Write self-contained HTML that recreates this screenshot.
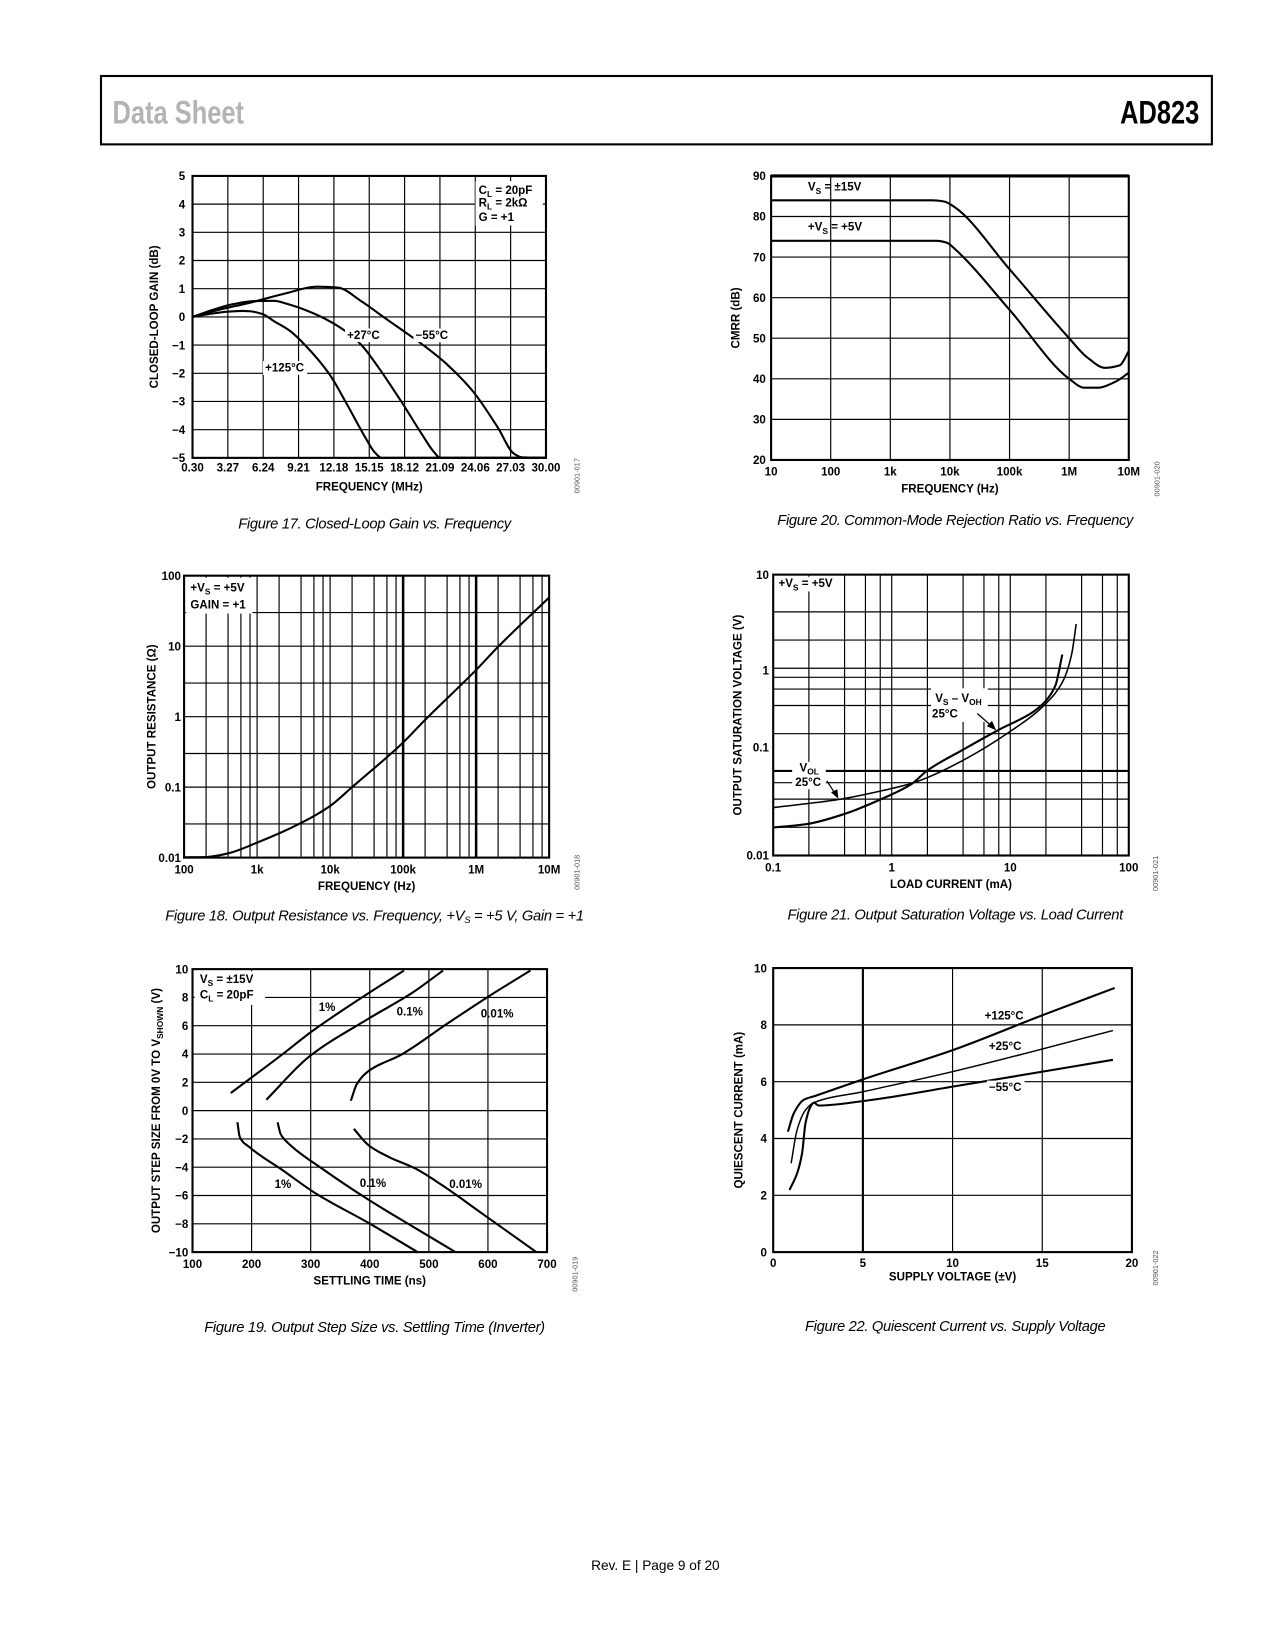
<!DOCTYPE html>
<html><head><meta charset="utf-8"><title>AD823 Data Sheet page 9</title>
<style>
html,body{margin:0;padding:0;background:#fff;}
svg{display:block;}
text{font-family:"Liberation Sans",sans-serif;}
.b{font-weight:bold;font-size:11px;}
.cap{font-style:italic;font-size:14px;letter-spacing:-0.3px;}
.id{font-size:7px;fill:#555;}
</style></head>
<body>
<svg id="page" width="1275" height="1650" viewBox="0 0 1212 1568" xmlns="http://www.w3.org/2000/svg">
<rect x="96" y="72" width="1056" height="65" fill="none" stroke="#000" stroke-width="2"/>
<text transform="translate(107,117) scale(0.78,1)" font-size="31" font-weight="bold" fill="#b3b3b3">Data Sheet</text>
<text transform="translate(1140,117) scale(0.78,1)" text-anchor="end" font-size="31" font-weight="bold" fill="#000">AD823</text>

<g id="c17"></g>
<g id="c20"></g>
<g id="c18"></g>
<g id="c21"></g>
<g id="c19"></g>
<g id="c22"></g>

<g id="labels">
<rect x="452" y="172" width="64" height="42" fill="#fff"/>
<text class="b" x="455" y="184">C<tspan font-size="8" dy="3">L</tspan><tspan dy="-3"> = 20pF</tspan></text>
<text class="b" x="455" y="196">R<tspan font-size="8" dy="3">L</tspan><tspan dy="-3"> = 2kΩ</tspan></text>
<text class="b" x="455" y="210">G = +1</text>
<rect x="328" y="312" width="35" height="13" fill="#fff"/>
<text class="b" x="330" y="322">+27°C</text>
<rect x="393" y="312" width="36" height="13" fill="#fff"/>
<text class="b" x="395" y="322">−55°C</text>
<rect x="250" y="343" width="42" height="13" fill="#fff"/>
<text class="b" x="252" y="353">+125°C</text>
<text class="b" x="768" y="181">V<tspan font-size="8" dy="3">S</tspan><tspan dy="-3"> = ±15V</tspan></text>
<text class="b" x="768" y="219">+V<tspan font-size="8" dy="3">S</tspan><tspan dy="-3"> = +5V</tspan></text>
<rect x="177" y="549" width="63" height="34" fill="#fff"/>
<text class="b" x="181" y="562">+V<tspan font-size="8" dy="3">S</tspan><tspan dy="-3"> = +5V</tspan></text>
<text class="b" x="181" y="578">GAIN = +1</text>
<rect x="737" y="548" width="62" height="14" fill="#fff"/>
<text class="b" x="740" y="558">+V<tspan font-size="8" dy="3">S</tspan><tspan dy="-3"> = +5V</tspan></text>
<rect x="885" y="654" width="54" height="32" fill="#fff"/>
<text class="b" x="889" y="667">V<tspan font-size="8" dy="3">S</tspan><tspan dy="-3"> – V</tspan><tspan font-size="8" dy="3">OH</tspan></text>
<text class="b" x="886" y="682">25°C</text>
<rect x="753" y="724" width="32" height="26" fill="#fff"/>
<text class="b" x="760" y="733">V<tspan font-size="8" dy="3">OL</tspan></text>
<text class="b" x="756" y="747">25°C</text>
<line x1="929" y1="678" x2="945" y2="692" stroke="#000" stroke-width="1.2"/>
<polygon points="947,694 938,690 943,685" fill="#000"/>
<line x1="786" y1="742" x2="795" y2="756" stroke="#000" stroke-width="1.2"/>
<polygon points="797,759 790,753 796,750" fill="#000"/>
<rect x="185" y="923" width="67" height="32" fill="#fff"/>
<text class="b" x="190" y="934">V<tspan font-size="8" dy="3">S</tspan><tspan dy="-3"> = ±15V</tspan></text>
<text class="b" x="190" y="949">C<tspan font-size="8" dy="3">L</tspan><tspan dy="-3"> = 20pF</tspan></text>
<text class="b" x="303" y="961">1%</text>
<text class="b" x="377" y="965">0.1%</text>
<text class="b" x="457" y="967">0.01%</text>
<text class="b" x="261" y="1129">1%</text>
<text class="b" x="342" y="1128">0.1%</text>
<text class="b" x="427" y="1129">0.01%</text>
<text class="b" x="936" y="969">+125°C</text>
<text class="b" x="940" y="998">+25°C</text>
<rect x="938" y="1027" width="36" height="12" fill="#fff"/>
<text class="b" x="940" y="1037">−55°C</text>
</g>

<g>
<text class="cap" x="356" y="502" text-anchor="middle">Figure 17. Closed-Loop Gain vs. Frequency</text>
<text class="cap" x="908" y="499" text-anchor="middle">Figure 20. Common-Mode Rejection Ratio vs. Frequency</text>
<text class="cap" x="356" y="875" text-anchor="middle">Figure 18. Output Resistance vs. Frequency, +V<tspan font-size="9" dy="2">S</tspan><tspan dy="-2"> = +5 V, Gain = +1</tspan></text>
<text class="cap" x="908" y="874" text-anchor="middle">Figure 21. Output Saturation Voltage vs. Load Current</text>
<text class="cap" x="356" y="1266" text-anchor="middle">Figure 19. Output Step Size vs. Settling Time (Inverter)</text>
<text class="cap" x="908" y="1265" text-anchor="middle">Figure 22. Quiescent Current vs. Supply Voltage</text>
</g>
<g>
<text class="id" transform="translate(551,452) rotate(-90)" text-anchor="middle">00901-017</text>
<text class="id" transform="translate(1102,455) rotate(-90)" text-anchor="middle">00901-020</text>
<text class="id" transform="translate(551,829) rotate(-90)" text-anchor="middle">00901-018</text>
<text class="id" transform="translate(1101,830) rotate(-90)" text-anchor="middle">00901-021</text>
<text class="id" transform="translate(549,1211) rotate(-90)" text-anchor="middle">00901-019</text>
<text class="id" transform="translate(1101,1205) rotate(-90)" text-anchor="middle">00901-022</text>
</g>
<text x="623" y="1492" text-anchor="middle" font-size="13">Rev. E | Page 9 of 20</text>
</svg>

<script>
// ---- Figure 17 data ----
const f17Ticks = ['0.30','3.27','6.24','9.21','12.18','15.15','18.12','21.09','24.06','27.03','30.00'];
const f17YTicks = [5,4,3,2,1,0,-1,-2,-3,-4,-5];
const f17m55x = [0.3,2.5,5.1,8,10.8,12.5,14.5,16.5,18.5,20,21.6,23.9,25.96,27.3,28,30];
const f17m55y = [0,0.25,0.5,0.82,1.07,1.04,0.55,-0.05,-0.64,-1.1,-1.65,-2.66,-3.93,-4.85,-4.98,-5];
const f17p27x = [0.3,2,3.7,5.5,7.1,8.5,9.8,11.5,13.2,14.5,15.9,17.9,19.6,20.6,21.1,30];
const f17p27y = [0,0.25,0.45,0.56,0.57,0.43,0.24,-0.08,-0.52,-1.0,-1.78,-3.04,-4.18,-4.8,-5,-5];
const f17p125x = [0.3,2,3.1,4.5,5.1,6.2,7.1,8.5,9.8,11.8,13.2,14.85,15.6,16.2,30];
const f17p125y = [0,0.12,0.18,0.21,0.2,0.1,-0.14,-0.5,-1.02,-2.03,-3.04,-4.3,-4.8,-5,-5];
// ---- Figure 20 data ----
const f20XTicks = ['10','100','1k','10k','100k','1M','10M'];
const f20YTicks = [20,30,40,50,60,70,80,90];
const f20v15x = [10,5000,8000,12000,100000,1e6,2e6,4e6,7e6,1e7];
const f20v15y = [84,84,83.7,82.3,67,50,45.3,42.7,43.3,46.8];
const f20v5x = [10,6000,9000,12500,100000,1e6,1.8e6,3e6,6e6,1e7];
const f20v5y = [74,74,73.5,71.8,57,40,37.8,37.8,39.3,41.5];
// ---- Figure 18 data ----
const f18XTicks = ['100','1k','10k','100k','1M','10M'];
const f18YTicks = ['0.01','0.1','1','10','100'];
const f18x = [100,200,400,1000,4000,10000,20000,100000,200000,1e6,2e6,1e7];
const f18y = [0.0101,0.0102,0.0115,0.0163,0.031,0.054,0.1,0.43,0.9,4.6,9.8,49];
// ---- Figure 21 data ----
const f21XTicks = ['0.1','1','10','100'];
const f21YTicks = ['0.01','0.1','1','10'];
const f21aX = [0.1,0.35,0.815,1.47,2,4,9.8,20,28,33,36];
const f21aY = [0.0325,0.0395,0.049,0.059,0.068,0.104,0.208,0.42,0.74,1.42,2.97];
const f21bX = [0.1,0.19,0.4,0.815,1.47,2,4,8,15.5,20,24,27.5];
const f21bY = [0.0199,0.0216,0.0278,0.04,0.058,0.081,0.135,0.22,0.34,0.45,0.65,1.4];
// ---- Figure 19 data ----
const f19XTicks = [100,200,300,400,500,600,700];
const f19YTicks = [10,8,6,4,2,0,-2,-4,-6,-8,-10];
const f19p1x = [164.7,251.9,302,398,458];
const f19p1y = [1.24,3.97,5.6,8.3,9.9];
const f19p01x = [225,297,398,471,524];
const f19p01y = [0.77,3.8,6.5,8.3,9.9];
const f19p001x = [368,378,398,454,533,606,672];
const f19p001y = [0.7,1.87,2.8,3.97,6.2,8.2,9.9];
const f19n1x = [176,180,196,252,308,398,481];
const f19n1y = [-0.82,-1.87,-2.57,-4.2,-5.84,-7.94,-10];
const f19n01x = [244,249,263,319,398,477,545];
const f19n01y = [-0.82,-1.64,-2.34,-4.09,-6.3,-8.3,-10];
const f19n001x = [373,398,432,477,522,589,682];
const f19n001y = [-1.29,-2.45,-3.27,-4.09,-5.26,-7.24,-10];
// ---- Figure 22 data ----
const f22XTicks = [0,5,10,15,20];
const f22YTicks = [0,2,4,6,8,10];
const f22h125x = [0.82,1.15,1.7,2.35,5.04,10.05,15.05,19.04];
const f22h125y = [4.24,4.89,5.36,5.5,6.09,7.12,8.35,9.3];
const f22r25x = [1.0,1.33,1.8,2.26,5.04,10.05,18.94];
const f22r25y = [3.13,4.3,5.0,5.26,5.65,6.36,7.8];
const f22c55x = [0.91,1.33,1.61,1.8,2.08,2.26,2.54,5.04,10.05,18.94];
const f22c55y = [2.19,2.77,3.48,4.54,5.12,5.26,5.16,5.32,5.83,6.77];

const NS = 'http://www.w3.org/2000/svg';
function mk(tag, parent, attrs){
  const e = document.createElementNS(NS, tag);
  for (const k in attrs) e.setAttribute(k, attrs[k]);
  parent.appendChild(e);
  return e;
}
function linS(d0,d1,p0,p1){ return v => p0 + (v-d0)/(d1-d0)*(p1-p0); }
function logS(d0,d1,p0,p1){ return v => p0 + (Math.log10(v)-Math.log10(d0))/(Math.log10(d1)-Math.log10(d0))*(p1-p0); }
// monotone cubic (Fritsch-Carlson) in x
function smooth(pts){
  const n = pts.length;
  const dx=[], dy=[], s=[];
  for (let i=0;i<n-1;i++){ dx[i]=pts[i+1][0]-pts[i][0]; dy[i]=pts[i+1][1]-pts[i][1]; s[i]=dx[i]?dy[i]/dx[i]:0; }
  const m=[];
  m[0]=s[0]; m[n-1]=s[n-2];
  for (let i=1;i<n-1;i++){
    if (s[i-1]*s[i]<=0) m[i]=0;
    else { const w1=2*dx[i]+dx[i-1], w2=dx[i]+2*dx[i-1]; m[i]=(w1+w2)/(w1/s[i-1]+w2/s[i]); }
  }
  let d = 'M'+pts[0][0].toFixed(2)+','+pts[0][1].toFixed(2);
  for (let i=0;i<n-1;i++){
    const h=dx[i]/3;
    d += 'C'+(pts[i][0]+h).toFixed(2)+','+(pts[i][1]+m[i]*h).toFixed(2)+' '+(pts[i+1][0]-h).toFixed(2)+','+(pts[i+1][1]-m[i+1]*h).toFixed(2)+' '+pts[i+1][0].toFixed(2)+','+pts[i+1][1].toFixed(2);
  }
  return d;
}
function vline(g,x,y0,y1,w){ const l = mk('line',g,{x1:x,x2:x,y1:y0,y2:y1,stroke:'#000','stroke-width':w||1.1});   }
function hline(g,y,x0,x1,w){ const l = mk('line',g,{x1:x0,x2:x1,y1:y,y2:y,stroke:'#000','stroke-width':w||1.1});   }
function frame(g,P){ const r = mk('rect',g,{x:P.x0,y:P.y0,width:P.x1-P.x0,height:P.y1-P.y0,fill:'none',stroke:'#000','stroke-width':2});   }
function xlab(g,x,y,t){ const e = mk('text',g,{x:x,y:y,'text-anchor':'middle',class:'b'}); e.textContent=t;   }
function ylab(g,x,y,t){ const e = mk('text',g,{x:x,y:y+4,'text-anchor':'end',class:'b'}); e.textContent=t;   }
function xtitle(g,P,t){ const e = mk('text',g,{x:(P.x0+P.x1)/2,y:P.y1+31,'text-anchor':'middle',class:'b'}); e.textContent=t;   }
function ytitle(g,x,P,html){ const e = mk('text',g,{transform:'translate('+x+','+((P.y0+P.y1)/2)+') rotate(-90)','text-anchor':'middle',class:'b'}); e.innerHTML=html;   }
function curve(g,xs,ys,sx,sy,w,name){
  const pts = xs.map((x,i)=>[sx(x),sy(ys[i])]);
  const p = mk('path',g,{d:smooth(pts),fill:'none',stroke:'#000','stroke-width':w,'stroke-linejoin':'round'});
  
  
}
const fmt = v => (v<0?'−'+(-v):''+v);

(function(){
  const g = document.getElementById('c17');
  const P = {x0:183,x1:519,y0:167,y1:435};
  const sx = linS(0.3,30,P.x0,P.x1), sy = linS(-5,5,P.y1,P.y0);
  f17Ticks.forEach((t,i)=>{ const x = P.x0+(P.x1-P.x0)*i/(f17Ticks.length-1); vline(g,x,P.y0,P.y1); xlab(g,x,P.y1+13,t); });
  f17YTicks.forEach(v=>{ hline(g,sy(v),P.x0,P.x1); ylab(g,P.x0-7,sy(v),fmt(v)); });
  frame(g,P);
  curve(g,f17m55x,f17m55y,sx,sy,2,'curve-minus55c');
  curve(g,f17p27x,f17p27y,sx,sy,2,'curve-27c');
  curve(g,f17p125x,f17p125y,sx,sy,2,'curve-125c');
  xtitle(g,P,'FREQUENCY (MHz)');
  ytitle(g,150,P,'CLOSED-LOOP GAIN (dB)');
})();

(function(){
  const g = document.getElementById('c20');
  const P = {x0:733,x1:1073,y0:167,y1:437};
  const sx = logS(10,1e7,P.x0,P.x1), sy = linS(20,90,P.y1,P.y0);
  f20XTicks.forEach((t,i)=>{ const x = sx(10*Math.pow(10,i)); vline(g,x,P.y0,P.y1); xlab(g,x,P.y1+15,t); });
  f20YTicks.forEach(v=>{ hline(g,sy(v),P.x0,P.x1); ylab(g,P.x0-5,sy(v),fmt(v)); });
  frame(g,P);
  hline(g,P.y0,P.x0,P.x1,3);
  curve(g,f20v15x,f20v15y,sx,sy,2,'curve-vs-15v');
  curve(g,f20v5x,f20v5y,sx,sy,2,'curve-vs-5v');
  xtitle(g,P,'FREQUENCY (Hz)');
  ytitle(g,703,P,'CMRR (dB)');
})();

(function(){
  const g = document.getElementById('c18');
  const P = {x0:175,x1:522,y0:547,y1:815};
  const sx = logS(100,1e7,P.x0,P.x1), sy = logS(0.01,100,P.y1,P.y0);
  for (let d=0; d<5; d++){ const b = 100*Math.pow(10,d); [2,4,6,8].forEach(m=>vline(g,sx(b*m),P.y0,P.y1)); }
  f18XTicks.forEach((t,i)=>{ const x = sx(100*Math.pow(10,i)); vline(g,x,P.y0,P.y1,(i==3||i==4)?2.4:1.1); xlab(g,x,P.y1+15,t); });
  f18YTicks.forEach((t,i)=>{ const v = 0.01*Math.pow(10,i); hline(g,sy(v),P.x0,P.x1); if(i<4) hline(g,sy(v*3),P.x0,P.x1); ylab(g,P.x0-3,sy(v),t); });
  frame(g,P);
  curve(g,f18x,f18y,sx,sy,2,'curve-output-resistance');
  xtitle(g,P,'FREQUENCY (Hz)');
  ytitle(g,148,P,'OUTPUT RESISTANCE (Ω)');
})();

(function(){
  const g = document.getElementById('c21');
  const P = {x0:735,x1:1073,y0:546,y1:813};
  const sx = logS(0.1,100,P.x0,P.x1), sy = logS(0.01,10,P.y1,P.y0);
  for (let d=0; d<3; d++){ const b = 0.1*Math.pow(10,d); [2,4,6,8].forEach(m=>vline(g,sx(b*m),P.y0,P.y1)); }
  f21XTicks.forEach((t,i)=>{ const x = sx(0.1*Math.pow(10,i)); vline(g,x,P.y0,P.y1); xlab(g,x,P.y1+15,t); });
  [4,2,1,0.8,0.6,0.4,0.2,0.06,0.04,0.02].forEach(v=>hline(g,sy(v),P.x0,P.x1));
  hline(g,sy(0.08),P.x0,P.x1,2);
  f21YTicks.forEach((t,i)=>{ const v = 0.01*Math.pow(10,i); ylab(g,P.x0-4,sy(v)-(i==1?14:(i==2?-2:0)),t); });
  frame(g,P);
  curve(g,f21aX,f21aY,sx,sy,1.5,'curve-vol-25c');
  curve(g,f21bX,f21bY,sx,sy,2,'curve-vs-voh-25c');
  xtitle(g,P,'LOAD CURRENT (mA)');
  ytitle(g,705,P,'OUTPUT SATURATION VOLTAGE (V)');
})();

(function(){
  const g = document.getElementById('c19');
  const P = {x0:183,x1:520,y0:921,y1:1190};
  const sx = linS(100,700,P.x0,P.x1), sy = linS(-10,10,P.y1,P.y0);
  f19XTicks.forEach(v=>{ vline(g,sx(v),P.y0,P.y1); xlab(g,sx(v),P.y1+15,''+v); });
  f19YTicks.forEach(v=>{ hline(g,sy(v),P.x0,P.x1); ylab(g,P.x0-4,sy(v),fmt(v)); });
  frame(g,P);
  curve(g,f19p1x,f19p1y,sx,sy,2,'curve-pos-1pct');
  curve(g,f19p01x,f19p01y,sx,sy,2,'curve-pos-0.1pct');
  curve(g,f19p001x,f19p001y,sx,sy,2,'curve-pos-0.01pct');
  curve(g,f19n1x,f19n1y,sx,sy,2,'curve-neg-1pct');
  curve(g,f19n01x,f19n01y,sx,sy,2,'curve-neg-0.1pct');
  curve(g,f19n001x,f19n001y,sx,sy,2,'curve-neg-0.01pct');
  xtitle(g,P,'SETTLING TIME (ns)');
  ytitle(g,152,P,'OUTPUT STEP SIZE FROM 0V TO V<tspan font-size="8" dy="3">SHOWN</tspan><tspan dy="-3"> (V)</tspan>');
})();

(function(){
  const g = document.getElementById('c22');
  const P = {x0:735,x1:1076,y0:920,y1:1190};
  const sx = linS(0,20,P.x0,P.x1), sy = linS(0,10,P.y1,P.y0);
  f22XTicks.forEach(v=>{ vline(g,sx(v),P.y0,P.y1,v==5?2:1.1); xlab(g,sx(v),P.y1+14,''+v); });
  f22YTicks.forEach(v=>{ hline(g,sy(v),P.x0,P.x1); ylab(g,P.x0-6,sy(v),''+v); });
  frame(g,P);
  curve(g,f22h125x,f22h125y,sx,sy,2,'curve-125c');
  curve(g,f22r25x,f22r25y,sx,sy,1.4,'curve-25c');
  curve(g,f22c55x,f22c55y,sx,sy,2,'curve-minus55c');
  xtitle(g,{x0:P.x0,x1:P.x1,y1:P.y1-4},'SUPPLY VOLTAGE (±V)');
  ytitle(g,706,P,'QUIESCENT CURRENT (mA)');
})();
document.getElementById('page').appendChild(document.getElementById('labels'));
</script>
</body></html>
